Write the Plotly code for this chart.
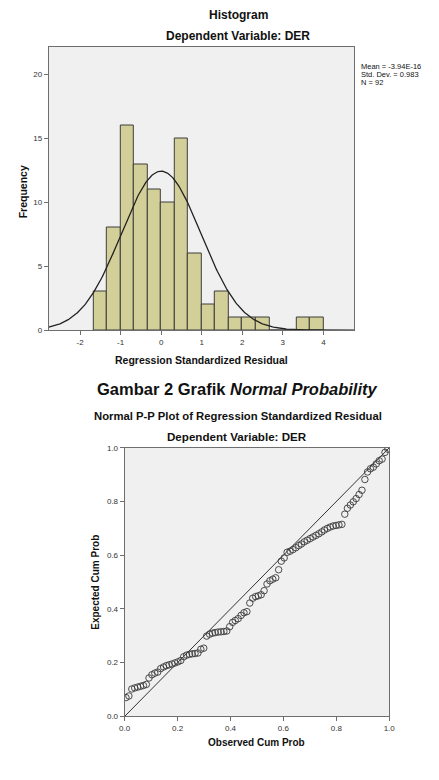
import numpy as np
import plotly.graph_objects as go

W, H = 439, 780

# ---------------- Histogram data ----------------
bin_left = [-5/3, -4/3, -1.0, -2/3, -1/3, 0.0, 1/3, 2/3, 1.0, 4/3, 5/3, 2.0, 7/3, 8/3, 3.0, 10/3, 11/3]
bin_counts = [3, 8, 16, 13, 11, 10, 15, 6, 2, 3, 1, 1, 1, 0, 0, 1, 1]
bin_width = 1/3
hist_xticks = [-2, -1, 0, 1, 2, 3, 4]
hist_xticklabels = ["-2", "-1", "0", "1", "2", "3", "4"]
hist_yticks = [0, 5, 10, 15, 20]
stat_mean = -3.94e-16
stat_sd = 0.983
stat_n = 92

# ---------------- P-P plot data ----------------
observed_cum = [0.005, 0.016, 0.027, 0.038, 0.049, 0.060, 0.071, 0.082, 0.092, 0.103,
                0.114, 0.125, 0.136, 0.147, 0.158, 0.168, 0.179, 0.190, 0.201, 0.212,
                0.223, 0.234, 0.245, 0.255, 0.266, 0.277, 0.288, 0.299, 0.310, 0.321,
                0.332, 0.342, 0.353, 0.364, 0.375, 0.386, 0.397, 0.408, 0.418, 0.429,
                0.440, 0.451, 0.462, 0.473, 0.484, 0.495, 0.505, 0.516, 0.527, 0.538,
                0.549, 0.560, 0.571, 0.582, 0.592, 0.603, 0.614, 0.625, 0.636, 0.647,
                0.658, 0.668, 0.679, 0.690, 0.701, 0.712, 0.723, 0.734, 0.745, 0.755,
                0.766, 0.777, 0.788, 0.799, 0.810, 0.821, 0.832, 0.842, 0.853, 0.864,
                0.875, 0.886, 0.897, 0.908, 0.918, 0.929, 0.940, 0.951, 0.962, 0.973,
                0.984, 0.995]
expected_cum = [0.070, 0.076, 0.102, 0.106, 0.109, 0.112, 0.115, 0.119, 0.143, 0.155,
                0.161, 0.165, 0.178, 0.184, 0.189, 0.192, 0.195, 0.199, 0.203, 0.208,
                0.222, 0.228, 0.231, 0.233, 0.234, 0.236, 0.250, 0.254, 0.299, 0.306,
                0.310, 0.312, 0.314, 0.315, 0.316, 0.318, 0.334, 0.350, 0.357, 0.364,
                0.376, 0.386, 0.390, 0.422, 0.440, 0.446, 0.449, 0.453, 0.468, 0.493,
                0.505, 0.511, 0.516, 0.546, 0.578, 0.590, 0.611, 0.615, 0.621, 0.628,
                0.636, 0.642, 0.650, 0.656, 0.662, 0.668, 0.674, 0.680, 0.687, 0.694,
                0.700, 0.705, 0.709, 0.711, 0.713, 0.715, 0.753, 0.775, 0.787, 0.799,
                0.811, 0.826, 0.842, 0.882, 0.910, 0.922, 0.928, 0.940, 0.952, 0.958,
                0.983, 0.995]
pp_ticks = [0.0, 0.2, 0.4, 0.6, 0.8, 1.0]

FONT = "Liberation Sans, Arial, sans-serif"

def px(x):
    return x / W

def py(y):
    return 1 - y / H

fig = go.Figure()

# histogram bars
centers = [b + bin_width / 2 for b in bin_left]
fig.add_trace(go.Bar(
    x=centers, y=bin_counts, width=bin_width,
    marker=dict(color="#d3cf98", line=dict(color="#3c3c3c", width=1)),
    xaxis="x", yaxis="y", showlegend=False, hoverinfo="skip"))

# fitted normal curve
xc = np.linspace(-2.77, 4.76, 300)
yc = stat_n * bin_width * np.exp(-0.5 * ((xc - stat_mean) / stat_sd) ** 2) / (stat_sd * np.sqrt(2 * np.pi))
fig.add_trace(go.Scatter(x=xc, y=yc, mode="lines", line=dict(color="#222222", width=1.3),
                         xaxis="x", yaxis="y", showlegend=False, hoverinfo="skip"))

# P-P diagonal
fig.add_trace(go.Scatter(x=[0, 1], y=[0, 1], mode="lines", line=dict(color="#333333", width=1),
                         xaxis="x2", yaxis="y2", showlegend=False, hoverinfo="skip"))
# P-P points
fig.add_trace(go.Scatter(x=observed_cum, y=expected_cum, mode="markers",
                         marker=dict(symbol="circle-open", size=6.5, color="#3a3a3a",
                                     line=dict(width=0.9, color="#3a3a3a")),
                         xaxis="x2", yaxis="y2", showlegend=False, hoverinfo="skip"))

axis_common = dict(showgrid=False, zeroline=False, showline=True, linecolor="#6e6e6e",
                   linewidth=1, mirror=True, ticks="outside", ticklen=4, tickcolor="#6e6e6e",
                   tickfont=dict(family=FONT, size=8, color="#333333"))

fig.update_layout(
    width=W, height=H,
    margin=dict(l=0, r=0, t=0, b=0),
    paper_bgcolor="white",
    plot_bgcolor="#f0f0f0",
    bargap=0,
    xaxis=dict(domain=[px(44), px(358)], range=[-2.77, 4.76], tickvals=hist_xticks,
               ticktext=hist_xticklabels, anchor="y", **axis_common),
    yaxis=dict(domain=[py(330), py(43)], range=[0, 22.2], tickvals=hist_yticks,
               anchor="x", **axis_common),
    xaxis2=dict(domain=[px(122), px(394)], range=[0, 1], tickvals=pp_ticks, tickformat=".1f",
                anchor="y2", **axis_common),
    yaxis2=dict(domain=[py(720.7), py(449)], range=[0, 1], tickvals=pp_ticks, tickformat=".1f",
                anchor="x2", **axis_common),
)

def text(x, y, s, size, angle=0, xanchor="center"):
    fig.add_annotation(x=px(x), y=py(y), xref="paper", yref="paper", text=s,
                       showarrow=False, textangle=angle, xanchor=xanchor, yanchor="middle",
                       font=dict(family=FONT, size=size, color="#111111"))

text(239, 11, "<b>Histogram</b>", 12)
text(239, 32, "<b>Dependent Variable: DER</b>", 12)
text(201, 360, "<b>Regression Standardized Residual</b>", 10.5)
text(17, 190, "<b>Frequency</b>", 10.5, angle=-90)
text(363, 63, "Mean = -3.94E-16", 7.5, xanchor="left")
text(363, 71, "Std. Dev. = 0.983", 7.5, xanchor="left")
text(363, 79, "N = 92", 7.5, xanchor="left")

text(238.5, 389, "<b>Gambar 2 Grafik <i>Normal Probability</i></b>", 16.5)
text(239, 417, "<b>Normal P-P Plot of Regression Standardized Residual</b>", 11.3)
text(238, 438, "<b>Dependent Variable: DER</b>", 11.6)
text(258, 747, "<b>Observed Cum Prob</b>", 10)
text(92, 585, "<b>Expected Cum Prob</b>", 10, angle=-90)

fig.write_html("out.html")
